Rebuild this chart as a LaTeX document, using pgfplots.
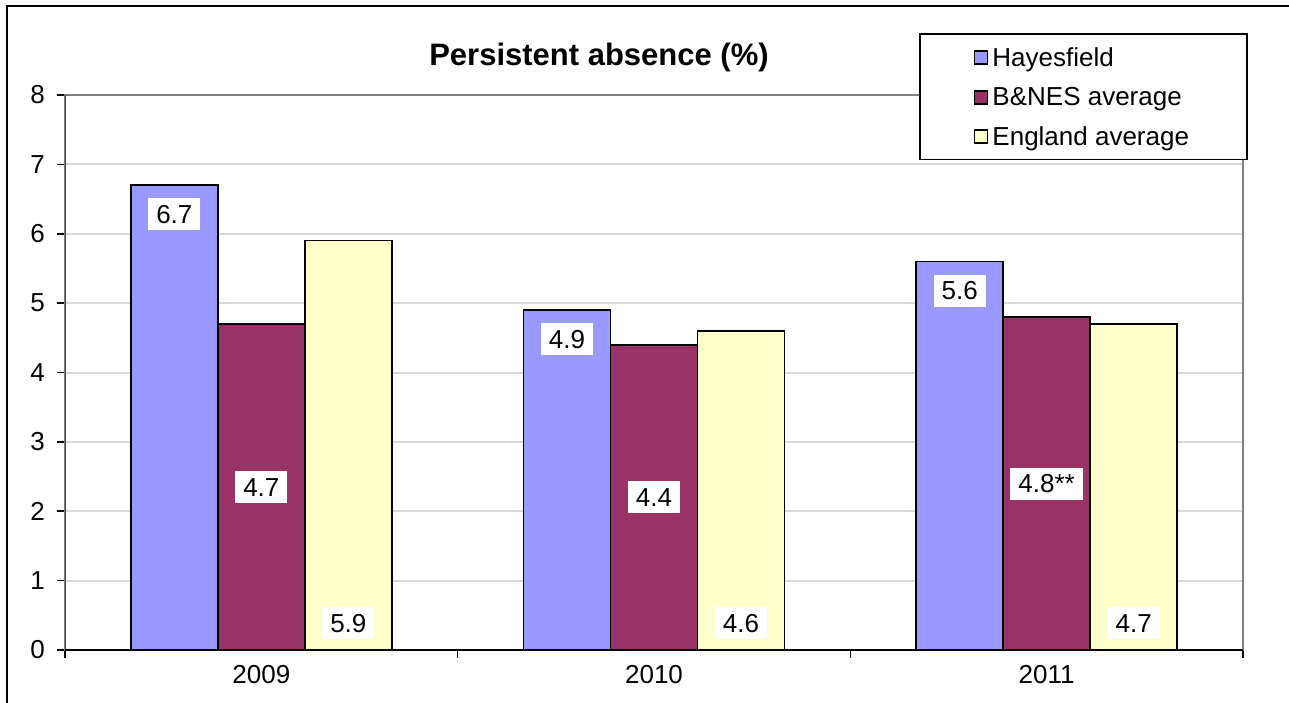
\documentclass[border=0pt]{standalone}
\usepackage{fontspec}
\setmainfont{Liberation Sans}
\usepackage{pgfplots}
\pgfplotsset{compat=1.18}
\definecolor{hay}{HTML}{9999FF}
\definecolor{bnes}{HTML}{993366}
\definecolor{eng}{HTML}{FFFFCC}
\definecolor{gridc}{HTML}{D9D9D9}
\definecolor{bordc}{HTML}{808080}
\tikzset{lab/.style={font=\fontsize{13}{15}\selectfont, fill=white, text=black,
    inner xsep=4pt, inner ysep=3.3pt, text height=9.4pt, text depth=0pt, anchor=center}}
\begin{document}
\begin{tikzpicture}[x=0.5pt,y=0.5pt]
\useasboundingbox (0,0) rectangle (1289,702);
\begin{scope}
\clip (0,0) rectangle (1289,702);
\draw[line width=1pt] (7,-20) -- (7,696) -- (1310,696);
\end{scope}
\begin{axis}[
  at={(32.5pt,26pt)}, anchor=south west,
  scale only axis, width=589pt, height=277.5pt,
  xmin=-0.5, xmax=2.5, ymin=0, ymax=8,
  ybar=0pt, bar width=43.5pt,
  axis line style={draw=bordc, line width=1pt},
  ytick={0,1,2,3,4,5,6,7,8},
  xtick={-0.5,0.5,1.5,2.5}, xticklabels={},
  extra x ticks={0,1,2}, extra x tick labels={2009,2010,2011},
  extra x tick style={major tick length=0pt},
  tick pos=left, tick align=outside, major tick length=4pt,
  tick style={draw=black, line width=0.8pt},
  ymajorgrids, grid style={draw=gridc, line width=1pt},
  ticklabel style={font=\fontsize{13}{15}\selectfont},
  yticklabel style={xshift=-2.5pt},
  xticklabel style={yshift=-4pt},
  /pgf/number format/assume math mode=true,
  legend style={at={(rel axis cs:0.725,1.1117)}, anchor=north west,
    draw=black, line width=0.8pt, fill=white,
    inner xsep=27pt, inner ysep=5pt, row sep=6.5pt, column sep=0pt,
    nodes={text depth=0pt},
    font=\fontsize{13}{15}\selectfont},
  legend cell align=left,
  sqleg/.style={legend image code/.code={\draw[##1, line width=0.8pt] (1pt,-3.5pt) rectangle (7.5pt,3pt);}},
]
\addplot[fill=hay, draw=black, line width=0.8pt, sqleg,
  nodes near coords, point meta=explicit symbolic,
  every node near coord/.append style={lab, yshift=-14.5pt}]
  coordinates {(0,6.7) [6.7] (1,4.9) [4.9] (2,5.6) [5.6]};
\addlegendentry{Hayesfield}
\addplot[fill=bnes, draw=black, line width=0.8pt, sqleg,
  nodes near coords, point meta=explicit symbolic,
  visualization depends on={rawy \as \ry},
  every node near coord/.append style={lab, yshift={-17.344pt*\ry}}]
  coordinates {(0,4.7) [4.7] (1,4.4) [4.4] (2,4.8) [4.8**]};
\addlegendentry{B\&NES average}
\addplot[fill=eng, draw=black, line width=0.8pt, sqleg,
  nodes near coords, point meta=explicit symbolic,
  visualization depends on={rawy \as \ry},
  every node near coord/.append style={lab, yshift={-34.6875pt*\ry+13.5pt}}]
  coordinates {(0,5.9) [5.9] (1,4.6) [4.6] (2,4.7) [4.7]};
\addlegendentry{England average}
\draw[draw=black!75, line width=1pt] (rel axis cs:0,0) -- (rel axis cs:0,1);
\draw[draw=black, line width=1pt] (rel axis cs:0,0) -- (rel axis cs:1,0);
\end{axis}
\node[font=\fontsize{15.5}{18}\selectfont\bfseries] at (599,645) {Persistent absence (\%)};
\end{tikzpicture}
\end{document}
